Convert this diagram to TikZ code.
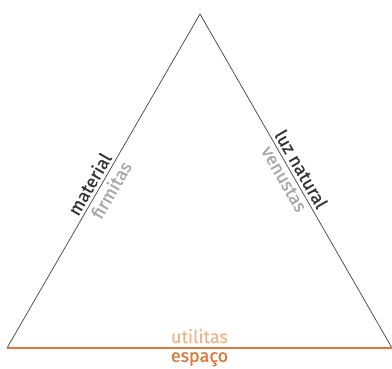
\documentclass[tikz,border=0pt]{standalone}
\usepackage{fontspec}
\setmainfont{Fira Sans}[BoldFont=Fira Sans, BoldFeatures={FakeBold=0.6}]
\begin{document}
\begin{tikzpicture}[x=1pt,y=-1pt,
  edge/.style={draw=black!75, line width=0.7pt},
  baseedge/.style={draw=orangeline, line width=1.4pt},
  lbl/.style={font=\fontsize{18}{18}\selectfont\bfseries, inner sep=3.5pt},
  dark/.style={lbl, text=black!80},
  grey/.style={lbl, text=black!35},
  orng/.style={lbl, text=orangetext},
  lightorng/.style={lbl, text=orangelight}]
\definecolor{orangeline}{HTML}{D9773D}
\definecolor{orangetext}{HTML}{DC7434}
\definecolor{orangelight}{HTML}{EFB58A}
\useasboundingbox (0,0) rectangle (392,368);
\coordinate (apex) at (200,14);
\coordinate (bl) at (7,348);
\coordinate (br) at (392,348);
\draw[edge] (bl) -- (apex) -- (br);
\draw[baseedge] (bl) -- (br);
\path (bl) -- (apex)
  node[dark, pos=0.475, sloped, above] (mat) {material}
  node[grey, pos=0.49, sloped, below] (firm) {firmitas};
\path (apex) -- (br)
  node[dark, pos=0.48, sloped, above] (luz) {luz natural}
  node[grey, pos=0.48, sloped, below] (ven) {venustas};
\path (bl) -- (br)
  node[lightorng, pos=0.5, above, inner sep=4.5pt] (util) {utilitas}
  node[orng, pos=0.5, below, inner sep=4pt] (esp) {espaço};
\end{tikzpicture}
\end{document}
